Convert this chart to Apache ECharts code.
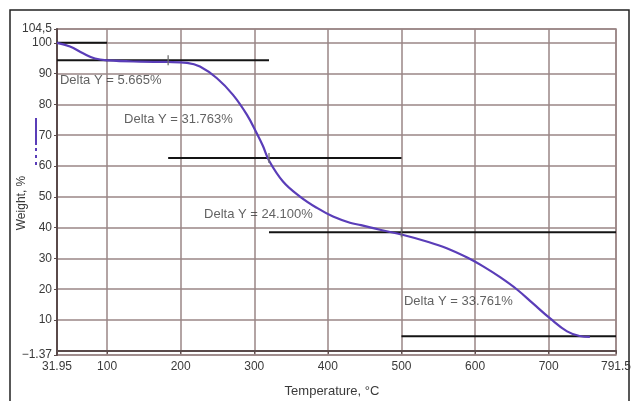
<!DOCTYPE html>
<html>
<head>
<meta charset="utf-8">
<script src="https://cdn.jsdelivr.net/npm/echarts@6/dist/echarts.min.js"></script>
<style>
  html, body { margin: 0; padding: 0; background: #fff; }
  #chart { width: 636px; height: 401px; }
</style>
</head>
<body>
<div id="chart"></div>
<script>
// Thermogravimetric curve: sample weight (%) against temperature (°C)
const temperature = [31.95, 49.6, 67.3, 83.6, 101.2, 144.7, 181.4, 208.6, 226.2, 249.3, 271.1, 290.1,
  303.7, 311.8, 320.0, 339.0, 362.1, 385.2, 407.0, 430.0, 445.0, 470.8, 502.5, 534.3, 561.5,
  590.0, 611.0, 634.0, 657.0, 679.0, 702.0, 725.0, 742.0, 756.0];
const weight = [100.0, 98.8, 96.6, 94.9, 94.3, 93.9, 93.8, 93.5, 92.3, 88.5, 83.1, 76.6,
  70.5, 66.5, 61.8, 55.0, 50.1, 46.4, 43.6, 41.6, 40.8, 39.3, 37.6, 35.5, 33.3,
  30.2, 27.4, 23.9, 19.9, 15.3, 10.5, 6.3, 4.8, 4.5];

// Axis ticks
const xTicks = [31.95, 100, 200, 300, 400, 500, 600, 700, 791.5];
const yTicks = [-1.37, 10, 20, 30, 40, 50, 60, 70, 80, 90, 100, 104.5];

// Mass-loss steps: starting weight and the loss of each stage
const startWeight = 100;
const deltaY = [5.665, 31.763, 24.100, 33.761];
// horizontal extent of each step level (°C)
const stepFrom = [31.95, 31.95, 183, 320, 500];
const stepTo = [100, 320, 500, 791.5, 791.5];
// temperatures where the stage boundaries are marked on the curve
const markerTemp = [183, 320, 500];
// anchor (temperature, weight) for each "Delta Y" caption
const captionTemp = [36, 123, 231.7, 503.4];
const captionWeight = [87.9, 75.2, 44.3, 16.0];

// step levels follow from the stated losses
const stepLevels = [startWeight];
deltaY.forEach(d => stepLevels.push(+(stepLevels[stepLevels.length - 1] - d).toFixed(3)));

const FONT = '"Liberation Sans", Arial, sans-serif';
const GRID = '#9a8686';
const TEXT = '#3a3a3a';

const chart = echarts.init(document.getElementById('chart'), null, { renderer: 'canvas' });

const stepSeries = stepLevels.map((lv, i) => ({
  type: 'line',
  data: [[stepFrom[i], lv], [stepTo[i], lv]],
  showSymbol: false,
  lineStyle: { color: '#141414', width: 2 },
  z: 3,
  silent: true
}));

chart.setOption({
  animation: false,
  backgroundColor: '#fff',
  grid: { left: 57, top: 29, right: 20, bottom: 46, show: true, borderColor: GRID, borderWidth: 1.5 },
  xAxis: {
    type: 'value',
    min: 31.95,
    max: 791.5,
    axisLine: { show: true, lineStyle: { color: '#5a4a4a', width: 2 } },
    axisTick: { show: true, length: 3, customValues: xTicks, lineStyle: { color: '#5a4a4a' } },
    axisLabel: {
      customValues: xTicks,
      margin: 6,
      color: TEXT,
      fontFamily: FONT,
      fontSize: 12,
      formatter: v => String(v)
    },
    splitLine: { show: true, lineStyle: { color: GRID, width: 1.5 } }
  },
  yAxis: {
    type: 'value',
    min: -1.37,
    max: 104.5,
    axisLine: { show: true, lineStyle: { color: '#5a4a4a', width: 2 } },
    axisTick: { show: true, length: 3, customValues: yTicks, lineStyle: { color: '#5a4a4a' } },
    axisLabel: {
      customValues: yTicks,
      margin: 5,
      color: TEXT,
      fontFamily: FONT,
      fontSize: 12,
      formatter: v => v === 104.5 ? '104,5' : (v === -1.37 ? '\u22121.37' : String(v))
    },
    splitLine: { show: true, lineStyle: { color: GRID, width: 1.5 } }
  },
  graphic: [
    {
      type: 'rect', shape: { x: 10, y: 10, width: 619, height: 400 },
      style: { fill: 'none', stroke: '#222', lineWidth: 1.5 }, silent: true
    },
    {
      type: 'text', x: 21.5, y: 203, rotation: Math.PI / 2,
      style: { text: 'Weight, %', font: '12px ' + FONT, fill: TEXT, align: 'center', verticalAlign: 'middle' }
    },
    {
      type: 'text', x: 332, y: 391,
      style: { text: 'Temperature, \u00B0C', font: '13px ' + FONT, fill: TEXT, align: 'center', verticalAlign: 'middle' }
    },
    {
      type: 'line', shape: { x1: 36, y1: 118, x2: 36, y2: 145 },
      style: { stroke: '#5a3db8', lineWidth: 2 }
    },
    {
      type: 'line', shape: { x1: 36, y1: 148, x2: 36, y2: 165 },
      style: { stroke: '#5a3db8', lineWidth: 2, lineDash: [3, 4] }
    }
  ],
  series: [
    ...stepSeries,
    {
      type: 'line',
      data: temperature.map((t, i) => [t, weight[i]]),
      smooth: 0.4,
      showSymbol: false,
      lineStyle: { color: '#5a3db8', width: 2.2 },
      z: 4,
      silent: true
    },
    {
      type: 'scatter',
      data: markerTemp.map((t, i) => [t, stepLevels[i + 1]]),
      symbol: 'rect',
      symbolSize: [1.6, 10],
      itemStyle: { color: '#6e6e6e' },
      z: 5,
      silent: true
    },
    {
      type: 'scatter',
      data: captionTemp.map((t, i) => ({ value: [t, captionWeight[i]], name: 'Delta Y = ' + deltaY[i].toFixed(3) + '%' })),
      symbolSize: 0,
      label: {
        show: true,
        position: 'right',
        distance: 0,
        formatter: p => p.name,
        color: TEXT,
        fontFamily: FONT,
        fontSize: 13
      },
      z: 6,
      silent: true
    }
  ]
});
</script>
</body>
</html>
